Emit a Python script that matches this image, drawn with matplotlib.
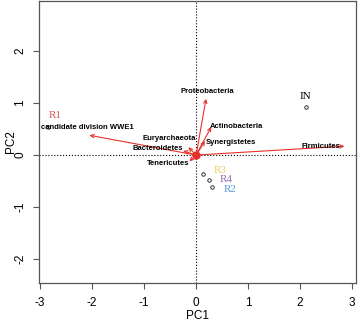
import numpy as np
import matplotlib.pyplot as plt

plt.rcParams['axes.unicode_minus'] = False

# sample scores (PC1, PC2)
samples = ['IN', 'R1', 'R2', 'R3', 'R4']
samp_x = [2.11, -2.85, 0.30, 0.14, 0.25]
samp_y = [0.92, 0.54, -0.61, -0.37, -0.48]
samp_col = ['black', '#d05a5a', '#5b9bd5', '#e8cf6a', '#9b6bb0']

# taxa loadings (arrow tips) and label positions
taxa = ['Proteobacteria', 'Actinobacteria', 'Synergistetes', 'Euryarchaeota',
        'Bacteroidetes', 'Tenericutes', 'Firmicutes', 'candidate division WWE1']
tip_x = [0.19, 0.29, 0.17, -0.15, -0.25, -0.13, 2.85, -2.05]
tip_y = [1.08, 0.54, 0.27, 0.15, 0.08, -0.12, 0.17, 0.38]
lab_x = [0.21, 0.77, 0.66, -0.52, -0.73, -0.54, 2.39, -2.10]
lab_y = [1.23, 0.54, 0.25, 0.31, 0.13, -0.17, 0.17, 0.53]

fig = plt.figure(figsize=(3.58, 3.21), dpi=100)
ax = fig.add_axes([0.109, 0.118, 0.885, 0.879])

ax.axhline(0, color='black', ls=':', lw=0.8)
ax.axvline(0, color='black', ls=':', lw=0.8)

red = '#e8302a'
for tx, ty in zip(tip_x, tip_y):
    ax.annotate('', xy=(tx, ty), xytext=(0, 0),
                arrowprops=dict(arrowstyle='->', color=red, lw=0.8,
                                mutation_scale=6, shrinkA=0, shrinkB=0))
for name, lx, ly in zip(taxa, lab_x, lab_y):
    ax.text(lx, ly, name, fontsize=5.5, ha='center', va='center',
            family='Liberation Sans', fontweight='bold')
ax.plot(0, 0, 'o', color=red, ms=5)

ax.plot(samp_x, samp_y, 'o', mfc='none', mec='#333333', ms=2.5, mew=0.7)
offs = {'IN': (0.0, 0.2), 'R1': (0.15, 0.22), 'R2': (0.35, -0.05),
        'R3': (0.33, 0.07), 'R4': (0.32, 0.02)}
for s, x, y, c in zip(samples, samp_x, samp_y, samp_col):
    dx, dy = offs[s]
    ax.text(x + dx, y + dy, s, color=c, fontsize=8, ha='center', va='center',
            family='Liberation Serif')

ax.set_xlim(-3.02, 3.07)
ax.set_ylim(-2.46, 2.96)
ax.set_xticks([-3, -2, -1, 0, 1, 2, 3])
ax.set_yticks([-2, -1, 0, 1, 2])
for lbl in ax.get_yticklabels():
    lbl.set_rotation(90)
    lbl.set_va('center')
ax.tick_params(labelsize=8.5, length=4, width=0.8, color='#555555')
ax.tick_params(axis='x', pad=6)
ax.tick_params(axis='y', pad=5)
for sp in ax.spines.values():
    sp.set_color('#555555')
    sp.set_linewidth(0.9)
ax.set_xlabel('PC1', fontsize=8.5, family='Liberation Sans', labelpad=1)
ax.set_ylabel('PC2', fontsize=8.5, family='Liberation Sans', va='center')
ax.yaxis.set_label_coords(-0.088, 0.5)
for lbl in ax.get_xticklabels() + ax.get_yticklabels():
    lbl.set_family('Liberation Sans')

fig.savefig('out.png', dpi=100)
